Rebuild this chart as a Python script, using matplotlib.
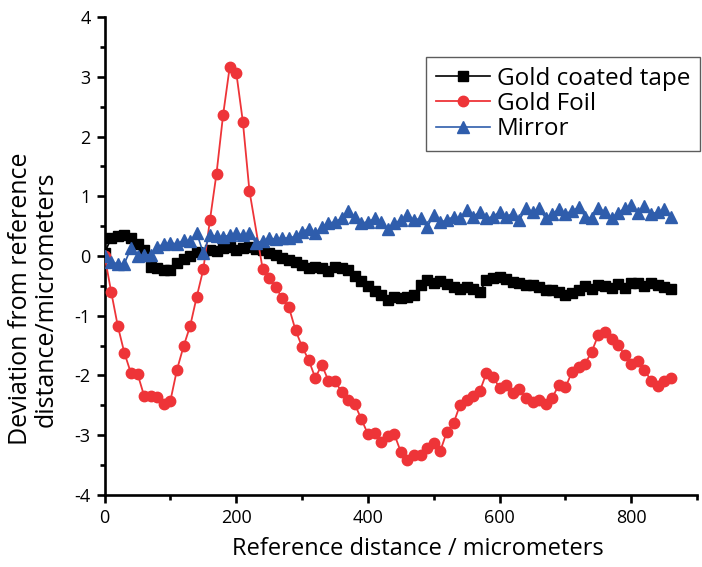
import matplotlib
matplotlib.use('Agg')
import matplotlib.pyplot as plt
from matplotlib.ticker import MultipleLocator

plt.rcParams['font.family'] = ['Open Sans', 'DejaVu Sans']
plt.rcParams['axes.unicode_minus'] = False

distance = [0, 10, 20, 30, 40, 50, 60, 70, 80, 90,
            100, 110, 120, 130, 140, 150, 160, 170, 180, 190,
            200, 210, 220, 230, 240, 250, 260, 270, 280, 290,
            300, 310, 320, 330, 340, 350, 360, 370, 380, 390,
            400, 410, 420, 430, 440, 450, 460, 470, 480, 490,
            500, 510, 520, 530, 540, 550, 560, 570, 580, 590,
            600, 610, 620, 630, 640, 650, 660, 670, 680, 690,
            700, 710, 720, 730, 740, 750, 760, 770, 780, 790,
            800, 810, 820, 830, 840, 850, 860]

foil_distance = [0, 10, 20, 30, 40, 50, 60, 70, 80, 90,
                 100, 110, 120, 130, 140, 150, 160, 170, 180, 190,
                 200, 210, 220, 240, 250, 260, 270, 280, 290,
                 300, 310, 320, 330, 340, 350, 360, 370, 380, 390,
                 400, 410, 420, 430, 440, 450, 460, 470, 480, 490,
                 500, 510, 520, 530, 540, 550, 560, 570, 580, 590,
                 600, 610, 620, 630, 640, 650, 660, 670, 680, 690,
                 700, 710, 720, 730, 740, 750, 760, 770, 780, 790,
                 800, 810, 820, 830, 840, 850, 860]

gold_tape = [0.05, 0.30, 0.33, 0.35, 0.30, 0.20, 0.10, -0.18, -0.20, -0.23,
             -0.24, -0.12, -0.05, 0.00, 0.07, 0.05, 0.10, 0.08, 0.13, 0.15,
             0.10, 0.13, 0.15, 0.12, 0.10, 0.05, 0.02, -0.03, -0.07, -0.10,
             -0.15, -0.20, -0.18, -0.20, -0.25, -0.18, -0.20, -0.23, -0.33, -0.42,
             -0.50, -0.58, -0.65, -0.74, -0.68, -0.70, -0.68, -0.66, -0.48, -0.40,
             -0.45, -0.42, -0.47, -0.52, -0.55, -0.52, -0.55, -0.60, -0.40, -0.36,
             -0.35, -0.38, -0.43, -0.46, -0.48, -0.48, -0.52, -0.57, -0.57, -0.60,
             -0.65, -0.62, -0.57, -0.50, -0.55, -0.48, -0.50, -0.53, -0.47, -0.53,
             -0.45, -0.45, -0.50, -0.45, -0.48, -0.52, -0.55]

gold_foil = [0.00, -0.60, -1.17, -1.62, -1.96, -1.97, -2.34, -2.35, -2.36, -2.47,
             -2.42, -1.90, -1.51, -1.17, -0.68, -0.22, 0.60, 1.38, 2.36, 3.16,
             3.07, 2.25, 1.09, -0.21, -0.37, -0.52, -0.71, -0.86, -1.24,
             -1.52, -1.74, -2.04, -1.82, -2.09, -2.10, -2.27, -2.41, -2.48, -2.73,
             -2.98, -2.97, -3.11, -3.01, -2.98, -3.28, -3.41, -3.33, -3.33, -3.22,
             -3.13, -3.26, -2.94, -2.80, -2.49, -2.41, -2.34, -2.26, -1.96, -2.02,
             -2.21, -2.16, -2.29, -2.23, -2.38, -2.44, -2.41, -2.48, -2.37, -2.16,
             -2.20, -1.94, -1.86, -1.80, -1.60, -1.32, -1.27, -1.39, -1.49, -1.66,
             -1.80, -1.75, -1.90, -2.09, -2.18, -2.10, -2.04]

mirror = [0.00, -0.10, -0.13, -0.13, 0.13, 0.00, 0.02, 0.02, 0.15, 0.20,
          0.22, 0.20, 0.27, 0.25, 0.38, 0.05, 0.35, 0.33, 0.32, 0.35,
          0.38, 0.35, 0.38, 0.22, 0.25, 0.30, 0.28, 0.30, 0.30, 0.33,
          0.40, 0.46, 0.38, 0.49, 0.55, 0.57, 0.63, 0.75, 0.66, 0.55,
          0.57, 0.63, 0.57, 0.45, 0.55, 0.60, 0.69, 0.60, 0.63, 0.48,
          0.69, 0.57, 0.60, 0.66, 0.63, 0.77, 0.66, 0.74, 0.63, 0.66,
          0.74, 0.66, 0.71, 0.60, 0.80, 0.74, 0.80, 0.63, 0.71, 0.78,
          0.71, 0.75, 0.82, 0.66, 0.63, 0.80, 0.74, 0.64, 0.72, 0.80,
          0.85, 0.72, 0.83, 0.71, 0.73, 0.78, 0.66]

series_labels = ['Gold coated tape', 'Gold Foil', 'Mirror']
x_ticks = [0, 200, 400, 600, 800]

fig = plt.figure(figsize=(7.02, 5.67), dpi=100)
ax = fig.add_axes([0.149, 0.127, 0.844, 0.843])

ax.plot(distance, gold_tape, color='black', marker='s', markersize=7,
        linewidth=1.2, label=series_labels[0], zorder=3)
ax.plot(foil_distance, gold_foil, color='#EE3438', marker='o', markersize=7.5,
        linewidth=1.3, label=series_labels[1], zorder=4)
ax.plot(distance, mirror, color='#2F5DAC', marker='^', markersize=8.5,
        linewidth=1.2, label=series_labels[2], zorder=5)

ax.set_xlim(0, 900)
ax.set_ylim(-4, 4)
ax.set_xticks(x_ticks)
ax.xaxis.set_minor_locator(MultipleLocator(100))
ax.yaxis.set_major_locator(MultipleLocator(1))
ax.yaxis.set_minor_locator(MultipleLocator(0.5))

for s in ['top', 'right']:
    ax.spines[s].set_visible(False)
for s in ['left', 'bottom']:
    ax.spines[s].set_linewidth(1.9)

ax.tick_params(axis='both', which='major', direction='out', length=6, width=1.9,
               labelsize=13, pad=4)
ax.tick_params(axis='both', which='minor', direction='out', length=3.5, width=1.9)

ax.set_xlabel('Reference distance / micrometers', fontsize=17, va='top')
ax.xaxis.set_label_coords(0.529, -0.088)
ax.set_ylabel('Deviation from reference\ndistance/micrometers', fontsize=18,
              linespacing=1.0)
ax.yaxis.set_label_coords(-0.078, 0.41)

leg = ax.legend(loc='upper right', bbox_to_anchor=(0.997, 0.8995),
                bbox_transform=fig.transFigure,
                fontsize=17.5, frameon=True, fancybox=False, borderpad=0.4,
                labelspacing=0.05, handlelength=2.2, handletextpad=0.3,
                borderaxespad=0)
leg.get_frame().set_edgecolor('#333333')
leg.get_frame().set_linewidth(1.0)

fig.savefig('out.png', dpi=100)
